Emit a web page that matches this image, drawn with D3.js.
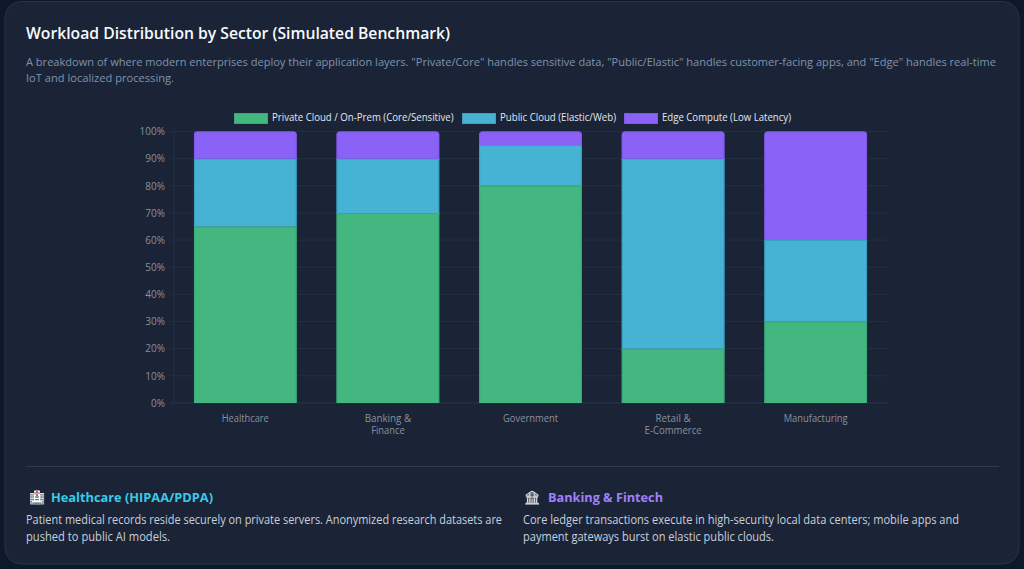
<!DOCTYPE html>
<html><head><meta charset="utf-8">
<script src="https://cdn.jsdelivr.net/npm/d3@7/dist/d3.min.js"></script>
<style>
html,body{margin:0;padding:0;background:#0f172a;width:1024px;height:569px;overflow:hidden}
svg{display:block;font-family:"Open Sans","Noto Sans",sans-serif}
</style></head><body><svg id="c" width="1024" height="569"></svg>
<script>
const categories=[["Healthcare"],["Banking &","Finance"],["Government"],["Retail &","E-Commerce"],["Manufacturing"]];
const seriesNames=["Private Cloud / On-Prem (Core/Sensitive)","Public Cloud (Elastic/Web)","Edge Compute (Low Latency)"];
const privateValues=[65,70,80,20,30];
const publicValues=[25,20,15,70,30];
const edgeValues=[10,10,5,10,40];
const yTicks=[0,10,20,30,40,50,60,70,80,90,100];
const colors=["#43b77f","#46b3d4","#8b62f7"];
const borders=["#3aa878","#3a9fc0","#7f58e6"];

const svg=d3.select("#c");
svg.append("rect").attr("x",5).attr("y",1.5).attr("width",1014).attr("height",562.5).attr("rx",16)
  .attr("fill","#1b2437").attr("stroke","#2a3447").attr("stroke-width",1);

function txt(x,y,s,size,fill,weight,anchor,len){
  const t=svg.append("text").attr("x",x).attr("y",y).text(s).attr("font-size",size).attr("fill",fill)
   .attr("font-weight",weight||400).attr("text-anchor",anchor||"start");
  if(len) t.attr("textLength",len).attr("lengthAdjust","spacingAndGlyphs");
  return t;
}
txt(26,39,"Workload Distribution by Sector (Simulated Benchmark)",16.7,"#f8fafc",600,"start",424);
txt(26,65.5,'A breakdown of where modern enterprises deploy their application layers. "Private/Core" handles sensitive data, "Public/Elastic" handles customer-facing apps, and "Edge" handles real-time',11,"#7f93ad",400,"start",970);
txt(26,82,"IoT and localized processing.",11,"#7f93ad",400,"start",148);

const names=categories.map(c=>c.join(" "));
const x=d3.scaleBand().domain(names).range([174,887]).paddingInner(0.28).paddingOuter(0.14);
const y=d3.scaleLinear().domain([0,100]).range([403,131.5]);

const grid=svg.append("g");
grid.selectAll("line.h").data(yTicks).join("line").attr("x1",170).attr("x2",887)
  .attr("y1",d=>y(d)).attr("y2",d=>y(d)).attr("stroke",d=>d===0?"#2a3447":"#252f43").attr("stroke-width",1);
grid.append("line").attr("x1",174).attr("x2",174).attr("y1",y(100)).attr("y2",y(0)).attr("stroke","#252f43");

const yAxis=d3.axisLeft(y).tickValues(yTicks).tickFormat(d=>d+"%").tickSize(0).tickPadding(9);
const yg=svg.append("g").attr("transform","translate(174,0)").call(yAxis);
yg.select(".domain").remove();
yg.selectAll("text").attr("font-size",10).attr("fill","#8a909c").attr("font-family",'"Open Sans"');

const stack=d3.stack().keys([0,1,2]).value((d,k)=>d[k]);
const rows=names.map((n,i)=>[privateValues[i],publicValues[i],edgeValues[i]]);
const layers=stack(rows);
layers.forEach((layer,k)=>{
  const g=svg.append("g");
  layer.forEach((seg,i)=>{
    const x0=x(names[i]),w=x.bandwidth(),top=y(seg[1]),bot=y(seg[0]);
    const r=(k===2||seg[1]===100)?3:0;
    g.append("path").attr("d",`M${x0},${bot}V${top+r}Q${x0},${top} ${x0+r},${top}H${x0+w-r}Q${x0+w},${top} ${x0+w},${top+r}V${bot}Z`)
      .attr("fill",colors[k]);
    g.append("path").attr("d",`M${x0+.5},${bot}V${top+r}Q${x0+.5},${top+.5} ${x0+r},${top+.5}H${x0+w-r}Q${x0+w-.5},${top+.5} ${x0+w-.5},${top+r}V${bot}`)
      .attr("fill","none").attr("stroke",borders[k]).attr("stroke-width",1);
  });
});

const catWidths=[[47],[46.5,33.5],[55],[35,57],[64]];
categories.forEach((c,i)=>{
  const cx=x(names[i])+x.bandwidth()/2;
  c.forEach((l,j)=>txt(cx,421.5+j*12,l,10,"#8a909c",400,"middle",catWidths[i][j]));
});

const legendX=[234,462,624];
const legendW=[181.5,116,129];
seriesNames.forEach((s,i)=>{
  svg.append("rect").attr("x",legendX[i]+.5).attr("y",113.5).attr("width",33).attr("height",10)
    .attr("fill",colors[i]).attr("stroke",borders[i]);
  txt(legendX[i]+38,121,s,10,"#e2e8f0",400,"start",legendW[i]);
});

svg.append("line").attr("x1",26).attr("x2",999).attr("y1",466.5).attr("y2",466.5).attr("stroke","#2f3b4f");

txt(29,502,"🏥",13,"#fff").style("filter","saturate(0.35) brightness(1.1)");
txt(51,502,"Healthcare (HIPAA/PDPA)",12.5,"#38cbe8",700,"start",162);
txt(26,524,"Patient medical records reside securely on private servers. Anonymized research datasets are",11.7,"#c6d0dd",400,"start",476);
txt(26,541,"pushed to public AI models.",11.7,"#c6d0dd",400,"start",144);
txt(524,502,"🏦",13,"#fff").style("filter","saturate(0.2)");
txt(548,502,"Banking & Fintech",12.5,"#a080fa",700,"start",115);
txt(523,524,"Core ledger transactions execute in high-security local data centers; mobile apps and",11.7,"#c6d0dd",400,"start",436);
txt(523,541,"payment gateways burst on elastic public clouds.",11.7,"#c6d0dd",400,"start",251);
</script></body></html>
